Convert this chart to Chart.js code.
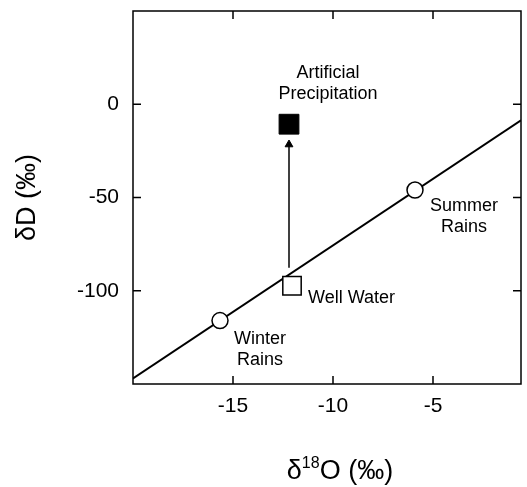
<!DOCTYPE html>
<html>
<head>
<meta charset="utf-8">
<script src="https://cdn.jsdelivr.net/npm/chart.js@4"></script>
<style>
  body { margin: 0; background: #fff; }
  #wrap { width: 527px; height: 487px; }
</style>
</head>
<body>
<div id="wrap"><canvas id="grafico"></canvas></div>
<script>
// datos
const lineaX = [-20, -0.6];
const lineaY = [-147, -8.6];
const lluviasX = [-15.65, -5.9];
const lluviasY = [-116, -46];
const pozoX = [-12.05];
const pozoY = [-97.3];
const artificialX = [-12.2];
const artificialY = [-10.7];
const flechaX = [-12.2, -12.2];
const flechaY = [-87.7, -21.6];
const xTicks = [-15, -10, -5];
const yTicks = [-100, -50, 0];

// etiquetas de texto (en unidades de los ejes)
const etiquetas = [
    { lineas: ['Artificial', 'Precipitation'], x: -10.25, y: 11, align: 'center' },
    { lineas: ['Well Water'], x: -11.25, y: -103.7, align: 'left' },
    { lineas: ['Winter', 'Rains'], x: -13.65, y: -131.3, align: 'center' },
    { lineas: ['Summer', 'Rains'], x: -3.45, y: -60.2, align: 'center' }
];

const fuente = '"Liberation Sans", Arial, Helvetica, sans-serif';

function puntos(xs, ys) {
    return xs.map((x, i) => ({ x: x, y: ys[i] }));
}

function sinRelleno(s) {
    s.paddingTop = 0;
    s.paddingBottom = 0;
    s.paddingLeft = 0;
    s.paddingRight = 0;
}

// marco, marcas hacia adentro, textos y titulo del eje x
const marcoPlugin = {
    id: 'marco',
    afterDraw(chart) {
        const ctx = chart.ctx;
        const a = chart.chartArea;
        const sx = chart.scales.x;
        const sy = chart.scales.y;
        ctx.save();
        ctx.strokeStyle = '#000';
        ctx.lineWidth = 1.5;
        ctx.strokeRect(a.left, a.top, a.right - a.left, a.bottom - a.top);
        ctx.beginPath();
        xTicks.forEach(v => {
            const px = sx.getPixelForValue(v);
            ctx.moveTo(px, a.bottom); ctx.lineTo(px, a.bottom - 8);
            ctx.moveTo(px, a.top); ctx.lineTo(px, a.top + 8);
        });
        yTicks.forEach(v => {
            const py = sy.getPixelForValue(v);
            ctx.moveTo(a.left, py); ctx.lineTo(a.left + 8, py);
            ctx.moveTo(a.right, py); ctx.lineTo(a.right - 8, py);
        });
        ctx.stroke();

        ctx.fillStyle = '#000';
        ctx.font = '18px ' + fuente;
        ctx.textBaseline = 'middle';
        etiquetas.forEach(e => {
            const px = sx.getPixelForValue(e.x);
            const py = sy.getPixelForValue(e.y);
            const alto = 21;
            const y0 = py - (e.lineas.length - 1) * alto / 2;
            ctx.textAlign = e.align;
            e.lineas.forEach((t, i) => ctx.fillText(t, px, y0 + i * alto));
        });

        // titulo x con superindice
        const cx = (a.left + a.right) / 2 + 13;
        const cy = 472;
        const grande = '27px ' + fuente;
        const chico = '16px ' + fuente;
        ctx.textAlign = 'left';
        ctx.font = grande;
        const w1 = ctx.measureText('δ').width;
        const w3 = ctx.measureText('O (‰)').width;
        ctx.font = chico;
        const w2 = ctx.measureText('18').width;
        let x0 = cx - (w1 + w2 + w3) / 2;
        ctx.font = grande;
        ctx.fillText('δ', x0, cy);
        ctx.font = chico;
        ctx.fillText('18', x0 + w1, cy - 8);
        ctx.font = grande;
        ctx.fillText('O (‰)', x0 + w1 + w2, cy);
        ctx.restore();
    }
};

new Chart(document.getElementById('grafico'), {
    type: 'scatter',
    data: {
        datasets: [
            {
                label: 'Artificial Precipitation',
                data: puntos(artificialX, artificialY),
                pointStyle: 'rect',
                pointRadius: 14,
                backgroundColor: '#000',
                borderColor: '#000',
                borderWidth: 1,
                order: 0
            },
            {
                label: 'Well Water',
                data: puntos(pozoX, pozoY),
                pointStyle: 'rect',
                pointRadius: 13,
                backgroundColor: '#fff',
                borderColor: '#000',
                borderWidth: 1.5,
                order: 0
            },
            {
                label: 'Rains',
                data: puntos(lluviasX, lluviasY),
                pointStyle: 'circle',
                pointRadius: 8,
                backgroundColor: '#fff',
                borderColor: '#000',
                borderWidth: 1.5,
                order: 0
            },
            {
                label: 'flecha',
                data: puntos(flechaX, flechaY),
                showLine: true,
                borderColor: '#000',
                borderWidth: 1.5,
                pointStyle: 'triangle',
                pointRadius: [0, 4.5],
                backgroundColor: '#000',
                pointBorderWidth: 1,
                order: 1
            },
            {
                label: 'linea',
                data: puntos(lineaX, lineaY),
                showLine: true,
                borderColor: '#000',
                borderWidth: 2,
                pointRadius: 0,
                order: 2
            }
        ]
    },
    options: {
        responsive: true,
        maintainAspectRatio: false,
        animation: false,
        layout: { autoPadding: false, padding: { top: 11, right: 6, left: 0, bottom: 0 } },
        plugins: {
            legend: { display: false },
            tooltip: { enabled: false }
        },
        scales: {
            x: {
                min: -20,
                max: -0.6,
                afterBuildTicks: s => { s.ticks = xTicks.map(v => ({ value: v })); },
                afterFit: s => { s.height = 103; sinRelleno(s); },
                grid: { display: false, drawTicks: false },
                border: { display: false },
                ticks: {
                    padding: 10,
                    color: '#000',
                    font: { family: fuente, size: 21 },
                    maxRotation: 0
                }
            },
            y: {
                min: -150,
                max: 50,
                afterBuildTicks: s => { s.ticks = yTicks.map(v => ({ value: v })); },
                afterFit: s => { s.width = 133; sinRelleno(s); },
                grid: { display: false, drawTicks: false },
                border: { display: false },
                ticks: {
                    padding: 14,
                    color: '#000',
                    font: { family: fuente, size: 21 }
                },
                title: {
                    display: true,
                    text: 'δD (‰)',
                    color: '#000',
                    font: { family: fuente, size: 27, lineHeight: 1 },
                    padding: { top: 14, bottom: 0 }
                }
            }
        }
    },
    plugins: [marcoPlugin]
});
</script>
</body>
</html>
